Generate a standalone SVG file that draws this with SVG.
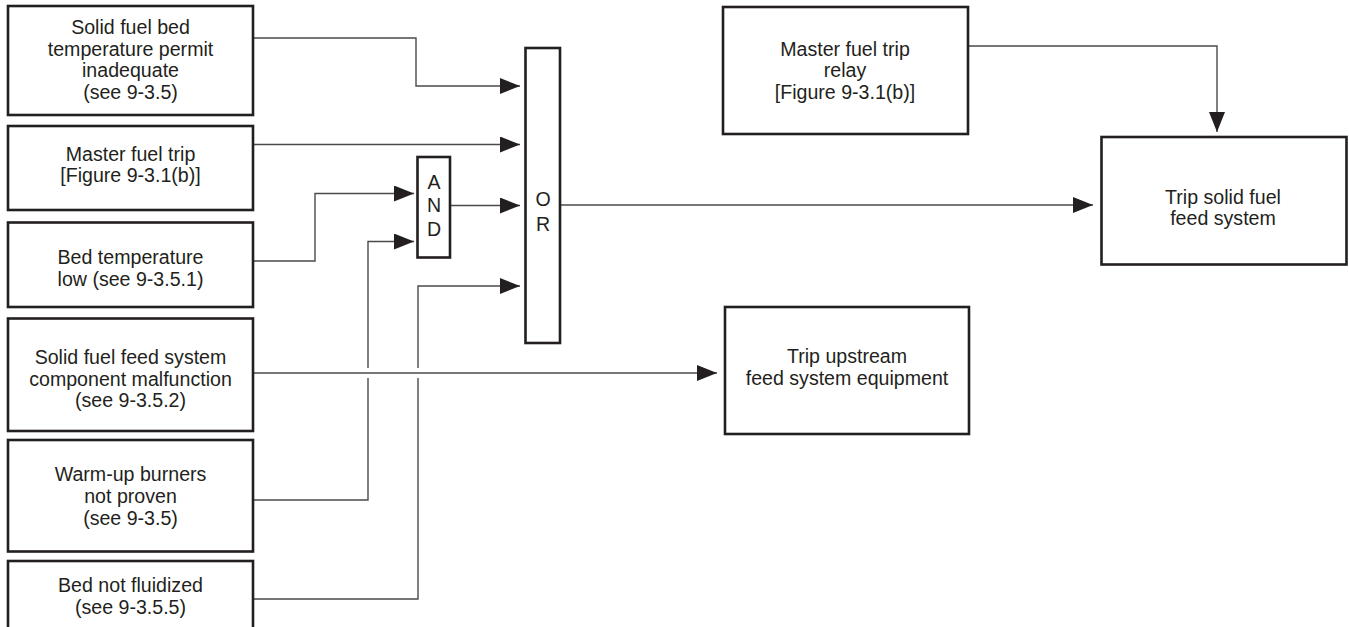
<svg xmlns="http://www.w3.org/2000/svg" width="1349" height="627" viewBox="0 0 1349 627">
<style>
.box{fill:#fff;stroke:#231f20;stroke-width:2.6}
.lbl{font-family:"Liberation Sans",Arial,sans-serif;font-size:19.6px;fill:#231f20;text-anchor:middle}
.con{fill:none;stroke:#4a4a4a;stroke-width:1.4}
</style>
<defs>
<marker id="arr" markerUnits="userSpaceOnUse" markerWidth="20" markerHeight="16" refX="20" refY="8" orient="auto">
<path d="M0,0 L20,8 L0,16 Z" fill="#231f20"/>
</marker>
</defs>
<rect width="1349" height="627" fill="#fff"/>
<g id="connectors">
<path class="con" d="M253,38 H416 V86 H520" marker-end="url(#arr)"/>
<path class="con" d="M253,144.5 H520" marker-end="url(#arr)"/>
<path class="con" d="M253,261 H315 V193.5 H414" marker-end="url(#arr)"/>
<path class="con" d="M253,500 H368 V378 M368,368 V241.5 H414" marker-end="url(#arr)"/>
<path class="con" d="M253,599 H418 V378 M418,368 V286 H520" marker-end="url(#arr)"/>
<path class="con" d="M253,373 H717" marker-end="url(#arr)"/>
<path class="con" d="M450,205.5 H520" marker-end="url(#arr)"/>
<path class="con" d="M560,205 H1093" marker-end="url(#arr)"/>
<path class="con" d="M968,46 H1217 V132" marker-end="url(#arr)"/>
</g>
<g id="n1">
<rect class="box" x="8" y="6" width="245" height="109"/>
<text class="lbl" x="130.5" y="34">Solid fuel bed</text>
<text class="lbl" x="130.5" y="56">temperature permit</text>
<text class="lbl" x="130.5" y="77">inadequate</text>
<text class="lbl" x="130.5" y="99">(see 9-3.5)</text>
</g>
<g id="n2">
<rect class="box" x="8" y="126" width="245" height="84"/>
<text class="lbl" x="130.5" y="160.5">Master fuel trip</text>
<text class="lbl" x="130.5" y="182">[Figure 9-3.1(b)]</text>
</g>
<g id="n3">
<rect class="box" x="8" y="222.5" width="245" height="84.5"/>
<text class="lbl" x="130.5" y="264">Bed temperature</text>
<text class="lbl" x="130.5" y="285.5">low (see 9-3.5.1)</text>
</g>
<g id="n4">
<rect class="box" x="8" y="318.5" width="245" height="112.5"/>
<text class="lbl" x="130.5" y="364">Solid fuel feed system</text>
<text class="lbl" x="130.5" y="385.5">component malfunction</text>
<text class="lbl" x="130.5" y="407">(see 9-3.5.2)</text>
</g>
<g id="n5">
<rect class="box" x="8" y="440" width="245" height="111.5"/>
<text class="lbl" x="130.5" y="480.5">Warm-up burners</text>
<text class="lbl" x="130.5" y="503">not proven</text>
<text class="lbl" x="130.5" y="524.5">(see 9-3.5)</text>
</g>
<g id="n6">
<rect class="box" x="8" y="561" width="245" height="90"/>
<text class="lbl" x="130.5" y="592">Bed not fluidized</text>
<text class="lbl" x="130.5" y="614">(see 9-3.5.5)</text>
</g>
<g id="and">
<rect class="box" x="417.5" y="157" width="32.5" height="100.5"/>
<text class="lbl" x="434" y="189">A</text>
<text class="lbl" x="434" y="212">N</text>
<text class="lbl" x="434" y="236">D</text>
</g>
<g id="or">
<rect class="box" x="525.5" y="48" width="34.5" height="295"/>
<text class="lbl" x="543" y="206">O</text>
<text class="lbl" x="543" y="231">R</text>
</g>
<g id="relay">
<rect class="box" x="723" y="7" width="245" height="127"/>
<text class="lbl" x="845" y="56">Master fuel trip</text>
<text class="lbl" x="845" y="77">relay</text>
<text class="lbl" x="845" y="99">[Figure 9-3.1(b)]</text>
</g>
<g id="tripsolid">
<rect class="box" x="1101.5" y="137" width="245" height="127.5"/>
<text class="lbl" x="1223" y="204">Trip solid fuel</text>
<text class="lbl" x="1223" y="225">feed system</text>
</g>
<g id="upstream">
<rect class="box" x="725" y="307" width="244" height="127"/>
<text class="lbl" x="847" y="363">Trip upstream</text>
<text class="lbl" x="847" y="385">feed system equipment</text>
</g>
</svg>
